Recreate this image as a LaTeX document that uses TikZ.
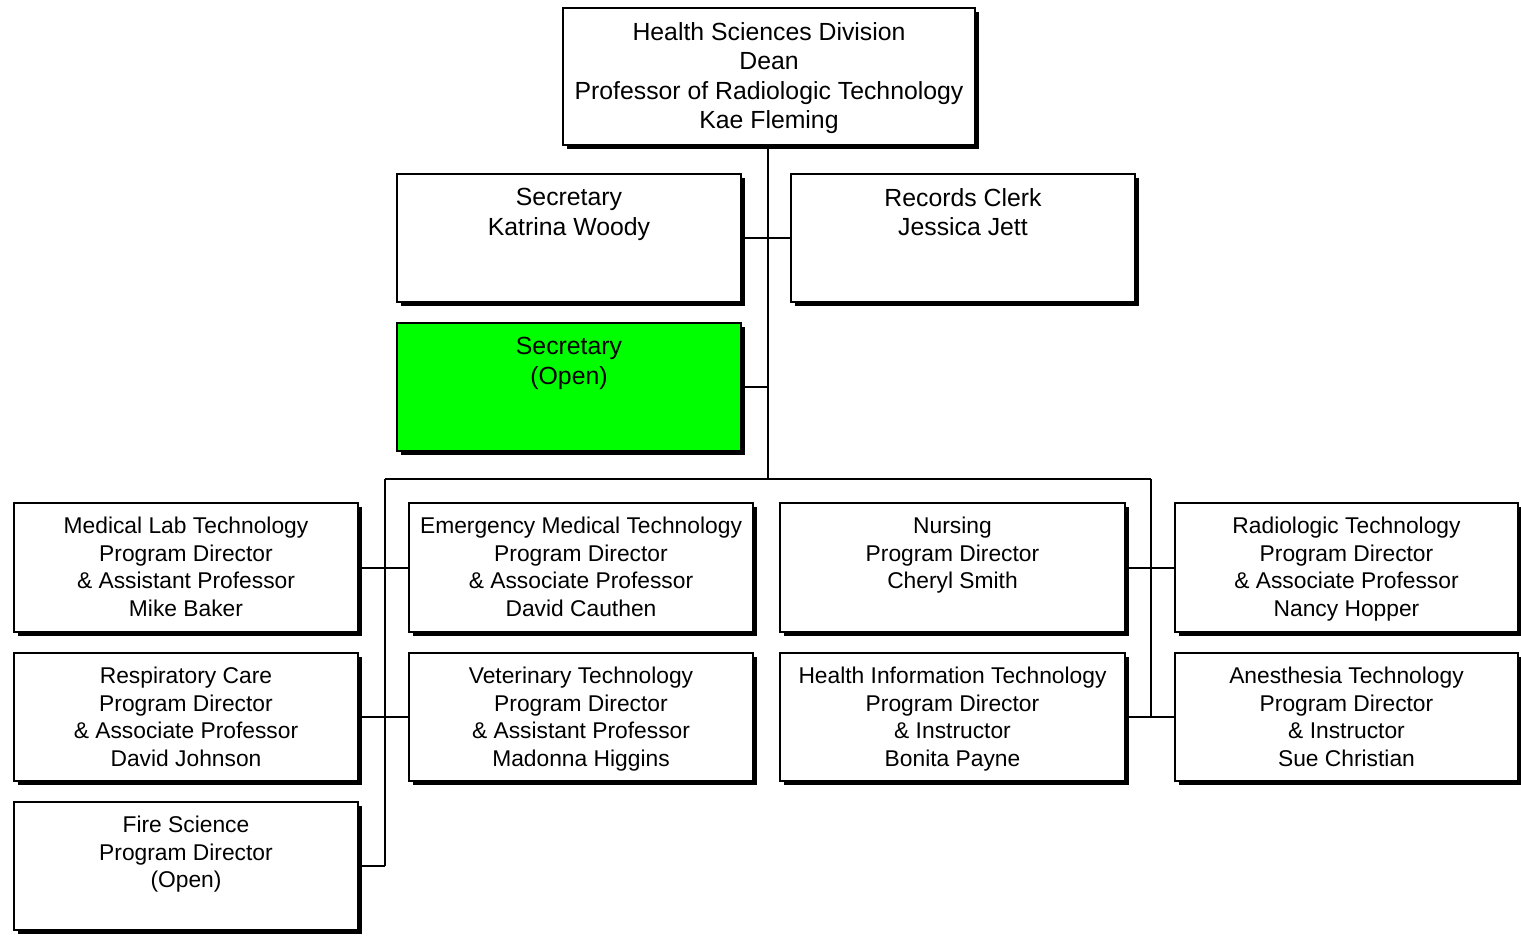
\documentclass[tikz,border=0pt]{standalone}
\usepackage{fontspec}
\setmainfont{Liberation Sans}
\usetikzlibrary{shadows}
\definecolor{opengreen}{HTML}{00FF00}
\tikzset{
  box/.style={draw=black, line width=1.3pt, fill=white, rectangle, inner sep=0pt, outer sep=0pt, anchor=north west,
    drop shadow={shadow xshift=4pt, shadow yshift=-4pt, fill=black, opacity=1}},
  bigtxt/.style={anchor=north, inner sep=0pt, align=center, font=\fontsize{24.8}{29.5}\selectfont, yshift=-14pt},
  smalltxt/.style={anchor=north, inner sep=0pt, align=center, font=\fontsize{22.8}{27.6}\selectfont, yshift=-14pt},
  conn/.style={draw=black, line width=2pt}
}
\begin{document}
\begin{tikzpicture}[x=1pt, y=-1pt]
\useasboundingbox (0,0) rectangle (1521,935);
% top
\node[box, minimum width=412pt, minimum height=137pt] (dean) at (563,8) {};
\node[bigtxt] (dean-t) at (dean.north) {Health Sciences Division\\Dean\\Professor of Radiologic Technology\\Kae Fleming};
% secretaries
\node[box, minimum width=344pt, minimum height=128pt] (sec) at (397,174) {};
\node[bigtxt] (sec-t) at (sec.north) {Secretary\\Katrina Woody};
\node[box, minimum width=344pt, minimum height=128pt] (rec) at (791,174) {};
\node[bigtxt] (rec-t) at (rec.north) {Records Clerk\\Jessica Jett};
\node[box, fill=opengreen, minimum width=344pt, minimum height=128pt] (secopen) at (397,323) {};
\node[bigtxt] (secopen-t) at (secopen.north) {Secretary\\(Open)};
% row 1
\node[box, minimum width=344pt, minimum height=129pt] (mlt) at (14,503) {};
\node[smalltxt] (mlt-t) at (mlt.north) {Medical Lab Technology\\Program Director\\\& Assistant Professor\\Mike Baker};
\node[box, minimum width=344pt, minimum height=129pt] (emt) at (409,503) {};
\node[smalltxt] (emt-t) at (emt.north) {Emergency Medical Technology\\Program Director\\\& Associate Professor\\David Cauthen};
\node[box, minimum width=345pt, minimum height=129pt] (nur) at (780,503) {};
\node[smalltxt] (nur-t) at (nur.north) {Nursing\\Program Director\\Cheryl Smith};
\node[box, minimum width=343pt, minimum height=129pt] (rad) at (1175,503) {};
\node[smalltxt] (rad-t) at (rad.north) {Radiologic Technology\\Program Director\\\& Associate Professor\\Nancy Hopper};
% row 2
\node[box, minimum width=344pt, minimum height=128pt] (resp) at (14,653) {};
\node[smalltxt] (resp-t) at (resp.north) {Respiratory Care\\Program Director\\\& Associate Professor\\David Johnson};
\node[box, minimum width=344pt, minimum height=128pt] (vet) at (409,653) {};
\node[smalltxt] (vet-t) at (vet.north) {Veterinary Technology\\Program Director\\\& Assistant Professor\\Madonna Higgins};
\node[box, minimum width=345pt, minimum height=128pt] (hit) at (780,653) {};
\node[smalltxt] (hit-t) at (hit.north) {Health Information Technology\\Program Director\\\& Instructor\\Bonita Payne};
\node[box, minimum width=343pt, minimum height=128pt] (ane) at (1175,653) {};
\node[smalltxt] (ane-t) at (ane.north) {Anesthesia Technology\\Program Director\\\& Instructor\\Sue Christian};
% row 3
\node[box, minimum width=344pt, minimum height=128pt] (fire) at (14,802) {};
\node[smalltxt] (fire-t) at (fire.north) {Fire Science\\Program Director\\(Open)};
% connectors
\coordinate (busL) at (385,479);
\coordinate (busR) at (1151,479);
\coordinate (trunk) at (768,149);
\draw[conn] (trunk) -- (trunk |- busL);
\draw[conn] (busL) -- (busR);
\draw[conn] ([xshift=4pt]sec.east) -- (rec.west);
\draw[conn] ([xshift=4pt]secopen.east) -- (trunk |- secopen.east);
\draw[conn] (busL) -- (busL |- fire.east);
\draw[conn] ([xshift=4pt]fire.east) -- (busL |- fire.east);
\draw[conn] ([xshift=4pt]mlt.east) -- (emt.west);
\draw[conn] ([xshift=4pt]resp.east) -- (vet.west);
\draw[conn] (busR) -- (busR |- hit.east);
\draw[conn] ([xshift=4pt]nur.east) -- (rad.west);
\draw[conn] ([xshift=4pt]hit.east) -- (ane.west);
\end{tikzpicture}
\end{document}
